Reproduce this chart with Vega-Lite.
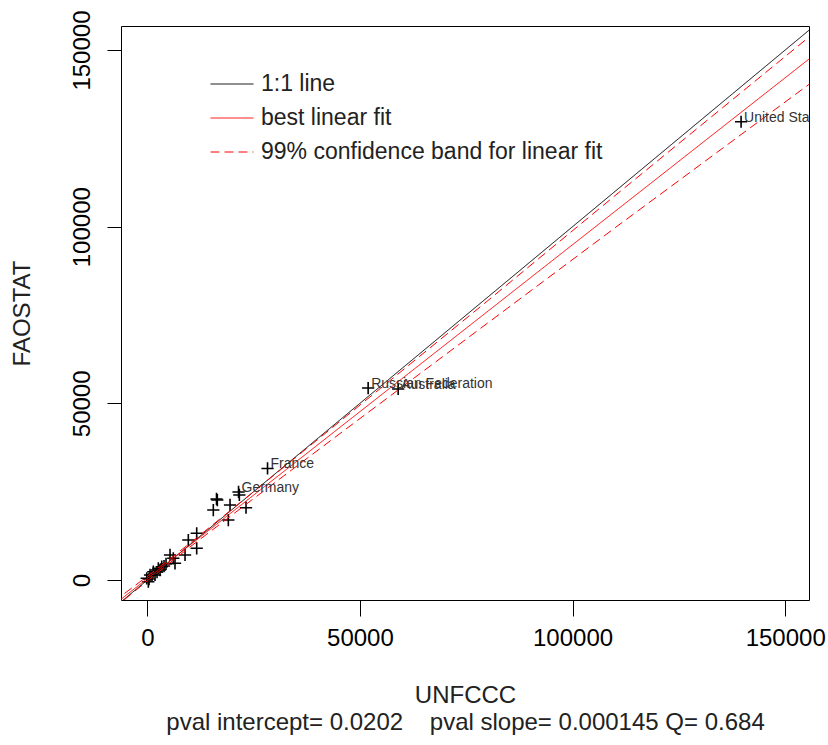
{
  "$schema": "https://vega.github.io/schema/vega-lite/v6.json",
  "autosize": {"type": "none"},
  "width": 688,
  "height": 574,
  "padding": {"left": 121, "top": 26, "right": 19, "bottom": 145},
  "background": "white",
  "config": {
    "font": "Liberation Sans",
    "view": {"stroke": "black", "strokeWidth": 1},
    "axis": {"grid": false, "domain": false, "tickColor": "black", "labelColor": "black", "titleColor": "#222", "labelFontSize": 24, "titleFontSize": 24, "titleFontWeight": "normal", "labelFont": "Liberation Sans", "titleFont": "Liberation Sans"}
  },
  "datasets": {
    "pts": [
      {"unfccc": 139630, "faostat": 129700, "label": "United States"},
      {"unfccc": 51930, "faostat": 54340, "label": "Russian Federation"},
      {"unfccc": 58990, "faostat": 54060, "label": "Australia"},
      {"unfccc": 28270, "faostat": 31560, "label": "France"},
      {"unfccc": 21450, "faostat": 24910, "label": "Germany"},
      {"unfccc": 23210, "faostat": 20460, "label": ""},
      {"unfccc": 16460, "faostat": 22640, "label": ""},
      {"unfccc": 16270, "faostat": 22930, "label": ""},
      {"unfccc": 15520, "faostat": 19810, "label": ""},
      {"unfccc": 19050, "faostat": 16980, "label": ""},
      {"unfccc": 21640, "faostat": 24060, "label": ""},
      {"unfccc": 19450, "faostat": 21230, "label": ""},
      {"unfccc": 11610, "faostat": 13220, "label": ""},
      {"unfccc": 9640, "faostat": 11320, "label": ""},
      {"unfccc": 11610, "faostat": 8970, "label": ""},
      {"unfccc": 8870, "faostat": 7080, "label": ""},
      {"unfccc": 6110, "faostat": 6140, "label": ""},
      {"unfccc": 6510, "faostat": 4730, "label": ""},
      {"unfccc": 5340, "faostat": 7080, "label": ""},
      {"unfccc": 2590, "faostat": 3310, "label": ""},
      {"unfccc": 1410, "faostat": 2350, "label": ""},
      {"unfccc": 640, "faostat": 1420, "label": ""},
      {"unfccc": -140, "faostat": 480, "label": ""},
      {"unfccc": 1810, "faostat": 1420, "label": ""},
      {"unfccc": 3390, "faostat": 3760, "label": ""},
      {"unfccc": 240, "faostat": -480, "label": ""},
      {"unfccc": 3930, "faostat": 3960, "label": ""},
      {"unfccc": 4400, "faostat": 4530, "label": ""},
      {"unfccc": 2990, "faostat": 2830, "label": ""},
      {"unfccc": 1100, "faostat": 1400, "label": ""},
      {"unfccc": 400, "faostat": 280, "label": ""},
      {"unfccc": 2280, "faostat": 2260, "label": ""}
    ],
    "lines": [
      {"series": "1:1 line", "part": "a", "x": -10000, "y": -10000},
      {"series": "1:1 line", "part": "a", "x": 170000, "y": 170000},
      {"series": "best linear fit", "part": "b", "x": -10000, "y": -9050},
      {"series": "best linear fit", "part": "b", "x": 170000, "y": 161050},
      {"series": "99% confidence band for linear fit", "part": "up", "x": -8000, "y": -6200},
      {"series": "99% confidence band for linear fit", "part": "up", "x": 0, "y": 1050},
      {"series": "99% confidence band for linear fit", "part": "up", "x": 10000, "y": 10380},
      {"series": "99% confidence band for linear fit", "part": "up", "x": 25000, "y": 25000},
      {"series": "99% confidence band for linear fit", "part": "up", "x": 50000, "y": 49500},
      {"series": "99% confidence band for linear fit", "part": "up", "x": 80000, "y": 79000},
      {"series": "99% confidence band for linear fit", "part": "up", "x": 110000, "y": 108800},
      {"series": "99% confidence band for linear fit", "part": "up", "x": 160000, "y": 158000},
      {"series": "99% confidence band for linear fit", "part": "lo", "x": -8000, "y": -8120},
      {"series": "99% confidence band for linear fit", "part": "lo", "x": 0, "y": -250},
      {"series": "99% confidence band for linear fit", "part": "lo", "x": 10000, "y": 9320},
      {"series": "99% confidence band for linear fit", "part": "lo", "x": 25000, "y": 23050},
      {"series": "99% confidence band for linear fit", "part": "lo", "x": 50000, "y": 45700},
      {"series": "99% confidence band for linear fit", "part": "lo", "x": 80000, "y": 72700},
      {"series": "99% confidence band for linear fit", "part": "lo", "x": 110000, "y": 99700},
      {"series": "99% confidence band for linear fit", "part": "lo", "x": 160000, "y": 144200}
    ]
  },
  "layer": [
    {
      "data": {"name": "pts"},
      "mark": {"type": "point", "shape": "M-1,0H1M0,-1V1", "filled": false, "strokeWidth": 1.6, "color": "black", "size": 150, "opacity": 1, "clip": true},
      "encoding": {
        "x": {"field": "unfccc", "type": "quantitative", "scale": {"domain": [-6190, 155600], "nice": false, "zero": false},
          "axis": {"values": [0, 50000, 100000, 150000], "format": "d", "tickSize": 16, "labelPadding": 10, "labelFlush": false, "labelOverlap": false,
            "title": ["UNFCCC", "pval intercept= 0.0202\u00a0\u00a0\u00a0\u00a0pval slope= 0.000145 Q= 0.684"],
            "titleBaseline": "alphabetic", "titleLineHeight": 27, "titleX": 344, "titleY": 102, "titleAnchor": "middle", "titleAlign": "center"}},
        "y": {"field": "faostat", "type": "quantitative", "scale": {"domain": [-5660, 156800], "nice": false, "zero": false},
          "axis": {"values": [0, 50000, 100000, 150000], "format": "d", "tickSize": 14, "labelPadding": 18, "labelAngle": -90, "labelAlign": "center", "labelBaseline": "alphabetic", "labelFlush": false, "labelOverlap": false,
            "title": "FAOSTAT", "titleAngle": -90, "titleX": -99, "titleY": 287, "titleAlign": "center", "titleBaseline": "middle"}}
      }
    },
    {
      "data": {"name": "lines"},
      "mark": {"type": "line", "strokeWidth": 1, "clip": true},
      "encoding": {
        "x": {"field": "x", "type": "quantitative"},
        "y": {"field": "y", "type": "quantitative"},
        "detail": {"field": "part"},
        "color": {"field": "series", "type": "nominal",
          "scale": {"domain": ["1:1 line", "best linear fit", "99% confidence band for linear fit"], "range": ["black", "red", "red"]},
          "legend": {"title": null, "orient": "none", "legendX": 89, "legendY": 36, "symbolType": "stroke", "symbolSize": 1849, "symbolStrokeWidth": 1, "labelFontSize": 23, "labelColor": "#222", "labelFont": "Liberation Sans", "labelOffset": 7, "rowPadding": -9, "labelLimit": 600}},
        "strokeDash": {"field": "series", "type": "nominal",
          "scale": {"domain": ["1:1 line", "best linear fit", "99% confidence band for linear fit"], "range": [[1, 0], [1, 0], [9, 5]]},
          "legend": {"title": null, "orient": "none", "legendX": 89, "legendY": 36, "symbolType": "stroke", "symbolSize": 1849, "symbolStrokeWidth": 1, "labelFontSize": 23, "labelColor": "#222", "labelFont": "Liberation Sans", "labelOffset": 7, "rowPadding": -9, "labelLimit": 600}}
      }
    },
    {
      "data": {"name": "pts"},
      "transform": [{"filter": "datum.label != ''"}],
      "mark": {"type": "text", "align": "left", "baseline": "alphabetic", "dx": 3, "fontSize": 14, "color": "#333", "font": "Liberation Sans", "clip": true},
      "encoding": {
        "x": {"field": "unfccc", "type": "quantitative"},
        "y": {"field": "faostat", "type": "quantitative"},
        "text": {"field": "label"}
      }
    }
  ]
}
